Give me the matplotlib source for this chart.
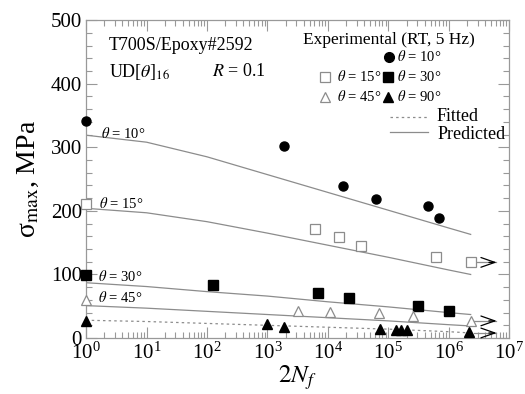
import numpy as np
import matplotlib
matplotlib.use('Agg')
import matplotlib.pyplot as plt
from matplotlib.ticker import LogLocator, MultipleLocator, NullFormatter

plt.rcParams['font.family'] = ['Liberation Serif', 'DejaVu Serif']
plt.rcParams['mathtext.fontset'] = 'stix'

# experimental data (2Nf, sigma_max in MPa)
n10 = [1, 1.9e3, 1.8e4, 6.3e4, 4.6e5, 6.9e5]
s10 = [342, 302, 239, 218, 207, 188]
n15 = [1, 6.2e3, 1.5e4, 3.5e4, 6.2e5, 2.3e6]
s15 = [211, 172, 159, 144, 128, 119]
n30 = [1, 1.26e2, 6.8e3, 2.2e4, 3.1e5, 1.0e6]
s30 = [99, 84, 71, 63, 50, 43]
n45 = [1, 3.2e3, 1.07e4, 6.9e4, 2.6e5, 2.3e6]
s45 = [60, 42, 41, 40, 35, 27]
n90 = [1, 1.0e3, 1.9e3, 7.4e4, 1.35e5, 1.6e5, 2.0e5, 2.2e6]
s90 = [27, 22, 18, 14, 13, 13, 13, 9]

# runouts (arrows) at the last point of 15, 45 and 90 deg
runout_n = [2.3e6, 2.3e6, 2.3e6]
runout_s = [119, 27, 8]

# predicted curves
n_pred = [1, 10, 1e2, 1e3, 1e4, 1e5, 1e6, 2.3e6]
p10 = [319, 308, 285, 257, 229, 201, 173, 163]
p15 = [204, 197, 183, 165, 146, 127, 107, 100]
p30 = [87, 81, 73, 66, 57, 49, 40, 37]
p45 = [51, 47, 42, 37, 32, 27, 21, 19]
# fitted curve for 90 deg
f90 = [28, 26, 23, 20, 17, 14, 10, 8]

grey = '#8c8c8c'

fig = plt.figure(figsize=(5.25, 3.94), dpi=100)
ax = fig.add_axes([0.164, 0.142, 0.806, 0.807])

for p in [p10, p15, p30, p45]:
    ax.plot(n_pred, p, color=grey, lw=0.9)
ax.plot(n_pred, f90, color=grey, lw=0.9, ls=(0, (2, 2.5)))

ax.plot(n10, s10, 'o', color='k', ms=6.5, clip_on=False, zorder=5)
ax.plot(n15, s15, 's', mfc='white', mec=grey, mew=0.9, ms=6.5, clip_on=False, zorder=5)
ax.plot(n30, s30, 's', color='k', ms=6.5, clip_on=False, zorder=5)
ax.plot(n45, s45, '^', mfc='white', mec=grey, mew=0.9, ms=7, clip_on=False, zorder=5)
ax.plot(n90, s90, '^', color='k', ms=7, clip_on=False, zorder=5)

for n, s in zip(runout_n, runout_s):
    ax.plot([n * 1.15, n * 2.6], [s, s], color=grey, lw=0.9)
    ax.annotate('', xy=(n * 3.0, s), xytext=(n * 1.8, s),
                arrowprops=dict(arrowstyle='->, head_length=1.0, head_width=0.35',
                                color='k', lw=0.9))

# labels on the curves
ax.text(1.75, 322, r'$\theta$ = 10°', fontsize=10.5, va='center')
ax.text(1.65, 212, r'$\theta$ = 15°', fontsize=10.5, va='center')
ax.text(1.55, 97, r'$\theta$ = 30°', fontsize=10.5, va='center')
ax.text(1.55, 63, r'$\theta$ = 45°', fontsize=10.5, va='center')

# header texts
ax.text(0.054, 0.921, 'T700S/Epoxy#2592', transform=ax.transAxes, fontsize=13, va='center')
ax.text(0.054, 0.837, r'UD[$\theta$]$_{16}$', transform=ax.transAxes, fontsize=13, va='center')
ax.text(0.298, 0.837, r'$R$ = 0.1', transform=ax.transAxes, fontsize=13, va='center')

# legend drawn by hand
tr = ax.transAxes
ax.text(0.715, 0.937, 'Experimental (RT, 5 Hz)', transform=tr, fontsize=12.5, ha='center', va='center')
ax.plot([0.716], [0.885], 'o', color='k', ms=7, transform=tr)
ax.text(0.735, 0.885, r'$\theta$ = 10°', transform=tr, fontsize=10.5, va='center')
ax.plot([0.565], [0.822], 's', mfc='white', mec=grey, mew=0.9, ms=6.5, transform=tr)
ax.text(0.593, 0.822, r'$\theta$ = 15°', transform=tr, fontsize=10.5, va='center')
ax.plot([0.713], [0.822], 's', color='k', ms=6.5, transform=tr)
ax.text(0.735, 0.822, r'$\theta$ = 30°', transform=tr, fontsize=10.5, va='center')
ax.plot([0.565], [0.759], '^', mfc='white', mec=grey, mew=0.9, ms=7, transform=tr)
ax.text(0.593, 0.759, r'$\theta$ = 45°', transform=tr, fontsize=10.5, va='center')
ax.plot([0.713], [0.759], '^', color='k', ms=7, transform=tr)
ax.text(0.735, 0.759, r'$\theta$ = 90°', transform=tr, fontsize=10.5, va='center')
ax.plot([0.719, 0.809], [0.694, 0.694], color=grey, lw=0.9, ls=(0, (2, 2.5)), transform=tr)
ax.text(0.829, 0.697, 'Fitted', transform=tr, fontsize=13, va='center')
ax.plot([0.719, 0.809], [0.647, 0.647], color=grey, lw=0.9, transform=tr)
ax.text(0.831, 0.640, 'Predicted', transform=tr, fontsize=13, va='center')

ax.set_xscale('log')
ax.set_xlim(1, 1e7)
ax.set_ylim(0, 500)
ax.xaxis.set_major_locator(LogLocator(base=10, numticks=10))
ax.xaxis.set_minor_locator(LogLocator(base=10, subs=np.arange(2, 10), numticks=10))
ax.xaxis.set_minor_formatter(NullFormatter())
ax.yaxis.set_major_locator(MultipleLocator(100))
ax.yaxis.set_minor_locator(MultipleLocator(20))

for sp in ax.spines.values():
    sp.set_color('#999999')
    sp.set_linewidth(0.9)
ax.tick_params(which='both', direction='in', top=True, right=True, color='#999999',
               labelsize=15, pad=3)
ax.tick_params(which='major', length=8, width=0.8)
ax.tick_params(which='minor', length=4, width=0.8)

ax.set_xlabel(r'$2N_f$', fontsize=18, labelpad=0)
ax.set_ylabel(r'σ$_\mathrm{max}$, MPa', fontsize=20, labelpad=7)

fig.savefig('out.png', dpi=100)
